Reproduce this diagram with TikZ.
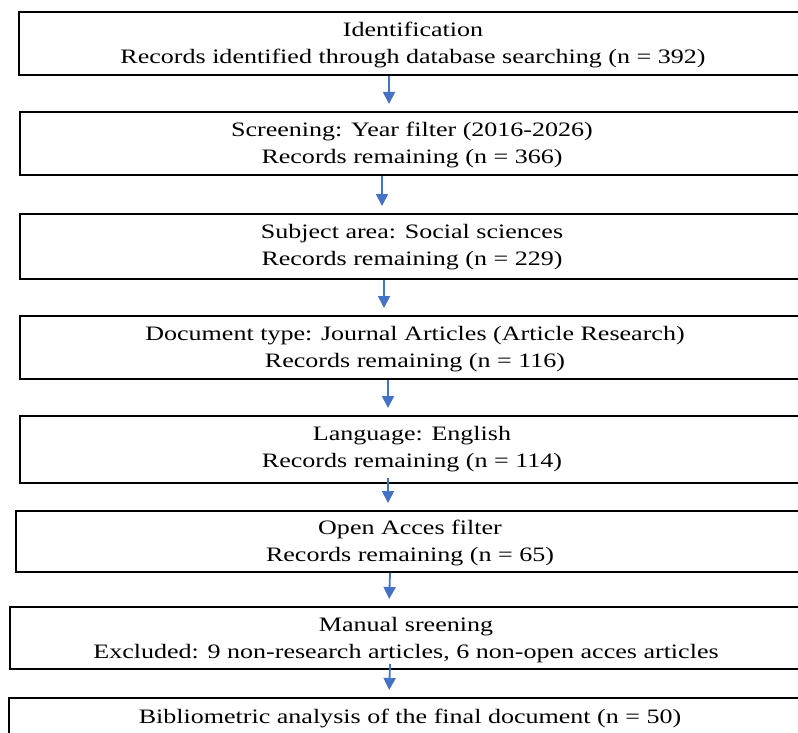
\documentclass[tikz,border=0pt]{standalone}
\usepackage{fontspec}
\setmainfont[FakeStretch=1.27]{Liberation Serif}
\usetikzlibrary{arrows.meta,calc}
\definecolor{arrblue}{HTML}{4472C4}
\tikzset{
  box/.style={draw=black, line width=2pt, anchor=north west, inner sep=0pt},
  lbl/.style={align=center, inner sep=0pt, font=\fontsize{20.5}{27}\selectfont},
  arr/.style={draw=arrblue, line width=1.8pt, -{Triangle[width=12pt,length=12pt]}, shorten >=7pt},
}
\begin{document}
\begin{tikzpicture}[x=1pt,y=-1pt]
\clip (0,0) rectangle (798,733);
\useasboundingbox (0,0) rectangle (798,733);
\node[box, minimum width=800pt, minimum height=63pt] (b1) at (18,11) {};
\node[box, minimum width=800pt, minimum height=63pt] (b2) at (19,111) {};
\node[box, minimum width=800pt, minimum height=65pt] (b3) at (19,213) {};
\node[box, minimum width=800pt, minimum height=63pt] (b4) at (19,315) {};
\node[box, minimum width=800pt, minimum height=67pt] (b5) at (19,415) {};
\node[box, minimum width=800pt, minimum height=61pt] (b6) at (15,510) {};
\node[box, minimum width=800pt, minimum height=62pt] (b7) at (9,606) {};
\node[box, minimum width=800pt, minimum height=80pt] (b8) at (8,697) {};

\node[lbl] (t1) at (413,45) {Identification\\Records identified through database searching (n = 392)};
\node[lbl] (t2) at (412,145) {Screening: Year filter (2016-2026)\\Records remaining (n = 366)};
\node[lbl] (t3) at (412,247) {Subject area: Social sciences\\Records remaining (n = 229)};
\node[lbl] (t4) at (415,349) {Document type: Journal Articles (Article Research)\\Records remaining (n = 116)};
\node[lbl] (t5) at (412,449) {Language: English\\Records remaining (n = 114)};
\node[lbl] (t6) at (410,543) {Open Acces filter\\Records remaining (n = 65)};
\node[lbl] (t7) at (406,640) {Manual sreening\\Excluded: 9 non-research articles, 6 non-open acces articles};
\node[lbl] (t8) at (410,718) {Bibliometric analysis of the final document (n = 50)};

\draw[arr] ($(b1.south west)+(371,0)$) -- ($(b2.north west)+(370,0)$);
\draw[arr] ($(b2.south west)+(363,0)$) -- ($(b3.north west)+(363,0)$);
\draw[arr] ($(b3.south west)+(365,0)$) -- ($(b4.north west)+(365,0)$);
\draw[arr] ($(b4.south west)+(369,0)$) -- ($(b5.north west)+(369,0)$);
\draw[arr] ($(b5.south west)+(369,-6)$) -- ($(b6.north west)+(373,0)$);
\draw[arr] ($(b6.south west)+(375,0)$) -- ($(b7.north west)+(380,0)$);
\draw[arr] ($(b7.south west)+(381,-6)$) -- ($(b8.north west)+(381,0)$);
\end{tikzpicture}
\end{document}
